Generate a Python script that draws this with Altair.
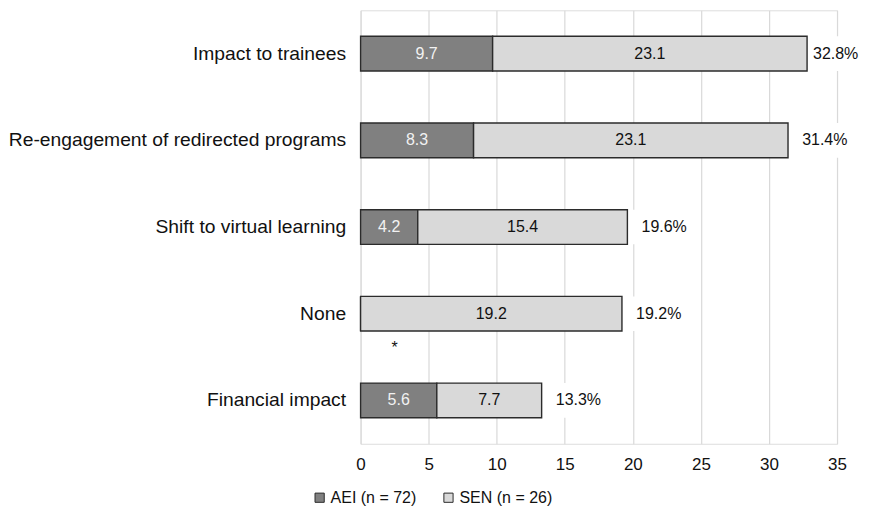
import altair as alt
import pandas as pd

categories = ["Impact to trainees", "Re-engagement of redirected programs",
              "Shift to virtual learning", "None", "Financial impact"]
aei = [9.7, 8.3, 4.2, 0.0, 5.6]
sen = [23.1, 23.1, 15.4, 19.2, 7.7]
totals = [32.8, 31.4, 19.6, 19.2, 13.3]
series = ["AEI (n = 72)", "SEN (n = 26)"]
notes = [{"category": "None", "x": 2.5, "text": "*"}]

rows = []
for c, a, s in zip(categories, aei, sen):
    rows.append({"category": c, "series": series[0], "start": 0.0, "end": a, "value": a, "order": 0})
    rows.append({"category": c, "series": series[1], "start": a, "end": a + s, "value": s, "order": 1})
seg = pd.DataFrame(rows)
seg["mid"] = (seg["start"] + seg["end"]) / 2
seg["label"] = seg["value"].map(lambda v: f"{v:.1f}")
seg["tcolor"] = seg["series"].map({series[0]: "#f2f2f2", series[1]: "#111111"})

tot = pd.DataFrame({"category": categories, "total": totals})
tot["label"] = tot["total"].map(lambda v: f"{v:.1f}%")
tot["pos"] = (tot["total"] + 2.7).clip(upper=34.9)
tot["bg0"] = pd.concat([tot["total"] + 0.15, tot["pos"] - 2.5], axis=1).max(axis=1)
tot["bg1"] = tot["pos"] + 2.5

note_df = pd.DataFrame(notes)

FONT = "Liberation Sans"
yenc = alt.Y("category:N", sort=categories, title=None,
             scale=alt.Scale(paddingInner=0.6, paddingOuter=0.3),
             axis=alt.Axis(labelFontSize=19.3, labelColor="#111111", labelPadding=15,
                           ticks=False, domain=False, labelLimit=500, labelFont=FONT))
xscale = alt.Scale(domain=[0, 35], nice=False)
xaxis = alt.Axis(values=list(range(0, 36, 5)), grid=True, gridColor="#d9d9d9", gridWidth=1.2,
                 domain=False, ticks=False, labelFontSize=17, labelColor="#111111",
                 labelPadding=13, labelFont=FONT, title=None, labelFlush=False)

bars = alt.Chart(seg).mark_bar(stroke="#2b2b2b", strokeWidth=1.4).encode(
    y=yenc,
    x=alt.X("start:Q", scale=xscale, axis=xaxis),
    x2="end:Q",
    color=alt.Color("series:N", scale=alt.Scale(domain=series, range=["#808080", "#d9d9d9"]),
                    legend=alt.Legend(title=None, orient="none", legendX=-49, legendY=480,
                                      direction="horizontal", symbolType="square",
                                      symbolSize=85, symbolStrokeColor="#2b2b2b",
                                      symbolStrokeWidth=1, labelFontSize=16, labelFont=FONT,
                                      labelColor="#111111", columnPadding=24, labelOffset=3)),
    order="order:Q",
)

seg_labels = alt.Chart(seg).transform_filter("datum.value > 0").mark_text(
    fontSize=16, font=FONT).encode(
    y=alt.Y("category:N", sort=categories),
    x=alt.X("mid:Q", scale=xscale),
    text="label:N",
    color=alt.Color("tcolor:N", scale=None),
)

bg = alt.Chart(tot).mark_bar(color="white").encode(
    y=alt.Y("category:N", sort=categories),
    x=alt.X("bg0:Q", scale=xscale),
    x2="bg1:Q",
)

tot_labels = alt.Chart(tot).mark_text(fontSize=16, font=FONT, color="#111111").encode(
    y=alt.Y("category:N", sort=categories),
    x=alt.X("pos:Q", scale=xscale),
    text="label:N",
)

note = alt.Chart(note_df).mark_text(fontSize=16, font=FONT, color="#111111", dy=34).encode(
    y=alt.Y("category:N", sort=categories),
    x=alt.X("x:Q", scale=xscale),
    text="text:N",
)

chart = alt.layer(bars, bg, seg_labels, tot_labels, note).properties(
    width=477, height=434,
    autosize=alt.AutoSizeParams(type="none"),
    padding={"left": 353, "top": 2, "right": 24, "bottom": 62},
).configure_view(stroke=None).configure(background="white")

chart.save("out.html", embed_options={"renderer": "svg", "actions": False})
